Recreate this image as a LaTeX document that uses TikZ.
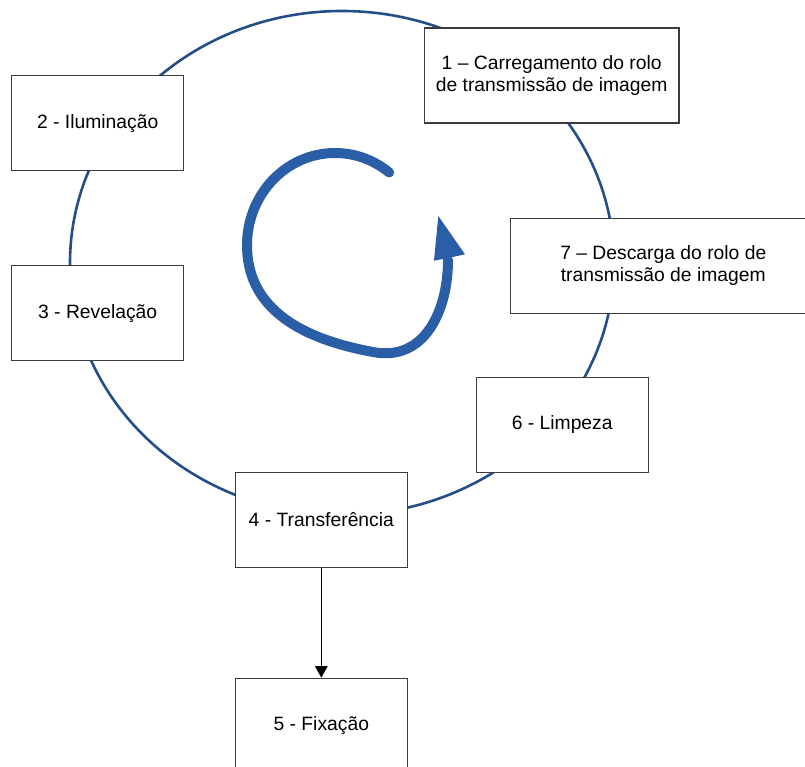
\documentclass[tikz,border=0pt]{standalone}
\usepackage{fontspec}
\setmainfont{Liberation Sans}
\usetikzlibrary{arrows.meta}
\definecolor{ringblue}{RGB}{36,78,138}
\definecolor{cycleblue}{RGB}{42,94,166}
\definecolor{boxline}{RGB}{60,60,60}
\tikzset{
  stage/.style={draw=boxline, line width=1.2pt, fill=white, rectangle,
    minimum width=172pt, minimum height=95pt, inner sep=0pt,
    align=center, text=black, font=\fontsize{19.3}{22}\selectfont},
  ring/.style={draw=ringblue, line width=2.6pt},
  flow/.style={draw=black, line width=1pt, -{Triangle[length=11.7pt,width=12.7pt]}},
}
\begin{document}
\begin{tikzpicture}[x=1pt, y=-1pt]
  \useasboundingbox (0,0) rectangle (805,767);
  % process ring
  \draw[ring] (342,263) ellipse [x radius=272pt, y radius=252pt];
  % central rotation arrow
  \draw[cycleblue, line width=10pt, line cap=round]
    (389.2,172.5) arc[start angle=52, end angle=180, x radius=88pt, y radius=92pt]
    .. controls (247,295) and (280,335) .. (373,352)
    .. controls (425,362) and (448,310) .. (448,260);
  \fill[cycleblue] (438.3,216) -- (465,254.3) -- (448,258) -- (434,260.7) -- cycle;
  % stages
  \node[stage, minimum width=254.7pt] (b1) at (551.7,75.5) {1 – Carregamento do rolo\\de transmissão de imagem};
  \node[stage] (b2) at (97.7,123.2) {2 - Iluminação};
  \node[stage] (b3) at (97.7,313.3) {3 - Revelação};
  \node[stage] (b4) at (321.3,519.8) {4 - Transferência};
  \node[stage] (b5) at (321.3,725.8) {5 - Fixação};
  \node[stage] (b6) at (562.2,424.7) {6 - Limpeza};
  \node[stage, minimum width=306pt] (b7) at (663.3,265.8) {7 – Descarga do rolo de\\transmissão de imagem};
  % hand-off to fixing
  \draw[flow] (b4) -- (b5);
\end{tikzpicture}
\end{document}
